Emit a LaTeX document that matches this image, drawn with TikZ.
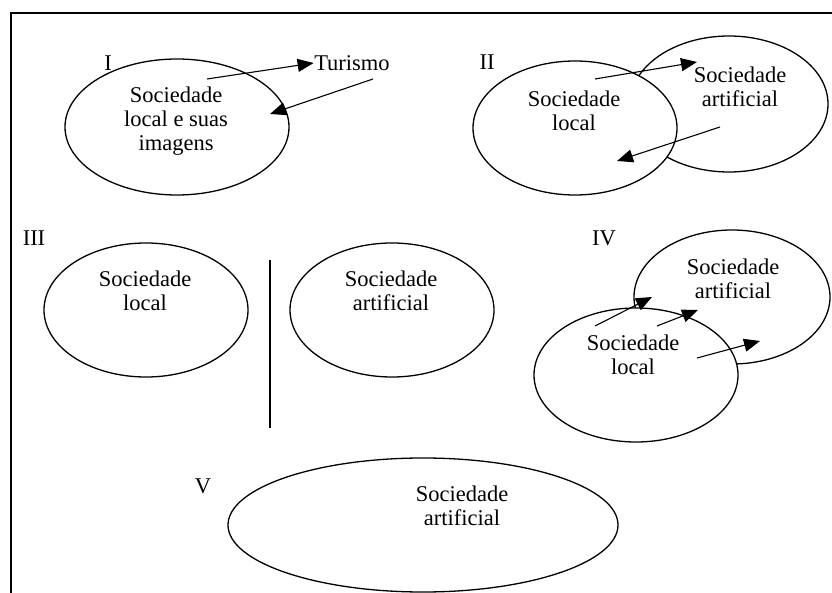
\documentclass[tikz,border=0pt]{standalone}
\usepackage{fontspec}
\setmainfont{Liberation Serif}
\usetikzlibrary{arrows.meta}
\usetikzlibrary{shapes.geometric}

\begin{document}
\begin{tikzpicture}[x=1pt, y=-1pt, line width=1.3pt,
    soc/.style={draw, ellipse, fill=white, inner sep=0pt, outer sep=0pt},
    txt/.style={align=center, font=\fontsize{22.5}{24}\selectfont, inner sep=0pt},
    flow/.style={-{Triangle[length=16pt, width=13pt]}, line width=1.1pt}]

        \useasboundingbox (0,0) rectangle (832,593);
        \draw[line width=1.5pt] (11,593) -- (11,13) -- (832,13);

        % I
        \node [txt] (numI) at (108,63) {I};
        \node [soc, minimum width=224pt, minimum height=136pt] (localI) at (177,127) {};
        \node [txt] (textI) at (176,121) {Sociedade\\local e suas\\imagens};
        \node [txt] (turismo) at (352,63) {Turismo};
        \coordinate (aI) at (207,79);
        \coordinate (bI) at (373,79);
        \coordinate (cI) at (270,114);
        \draw[flow] (aI) -- (turismo.west);
        \draw[flow] (bI) -- (cI);

        % II
        \node [txt] (numII) at (487,62) {II};
        \node [soc, minimum width=198pt, minimum height=136pt] (artII) at (729,104) {};
        \node [soc, minimum width=204pt, minimum height=134pt] (localII) at (575,128) {};
        \node [txt] (textartII) at (740,87) {Sociedade\\artificial};
        \node [txt] (textlocalII) at (574,111) {Sociedade\\local};
        \coordinate (aII) at (595,79);
        \coordinate (bII) at (697,62);
        \coordinate (cII) at (720,127);
        \coordinate (dII) at (617,161);
        \draw[flow] (aII) -- (bII);
        \draw[flow] (cII) -- (dII);

        % III
        \node [txt] (numIII) at (34,238) {III};
        \node [soc, minimum width=204pt, minimum height=134pt] (localIII) at (146,310) {};
        \node [soc, minimum width=204pt, minimum height=134pt] (artIII) at (392,310) {};
        \node [txt] (textlocalIII) at (145,291) {Sociedade\\local};
        \node [txt] (textartIII) at (391,291) {Sociedade\\artificial};
        \coordinate (topIII) at (270,260);
        \coordinate (botIII) at (270,428);
        \draw (topIII) -- (botIII);

        % IV
        \node [txt] (numIV) at (604,238) {IV};
        \node [soc, minimum width=196pt, minimum height=134pt] (artIV) at (732,297) {};
        \node [soc, minimum width=204pt, minimum height=134pt] (localIV) at (636,375) {};
        \node [txt] (textartIV) at (733,279) {Sociedade\\artificial};
        \node [txt] (textlocalIV) at (633,355) {Sociedade\\local};
        \coordinate (aIV) at (595,326);
        \coordinate (bIV) at (652,297);
        \coordinate (cIV) at (657,326);
        \coordinate (dIV) at (698,310);
        \coordinate (eIV) at (697,358);
        \coordinate (fIV) at (760,341);
        \draw[flow] (aIV) -- (bIV);
        \draw[flow] (cIV) -- (dIV);
        \draw[flow] (eIV) -- (fIV);

        % V
        \node [txt] (numV) at (203,486) {V};
        \node [soc, minimum width=390pt, minimum height=134pt] (artV) at (423,525) {};
        \node [txt] (textartV) at (462,506) {Sociedade\\artificial};

      \end{tikzpicture}
\end{document}
